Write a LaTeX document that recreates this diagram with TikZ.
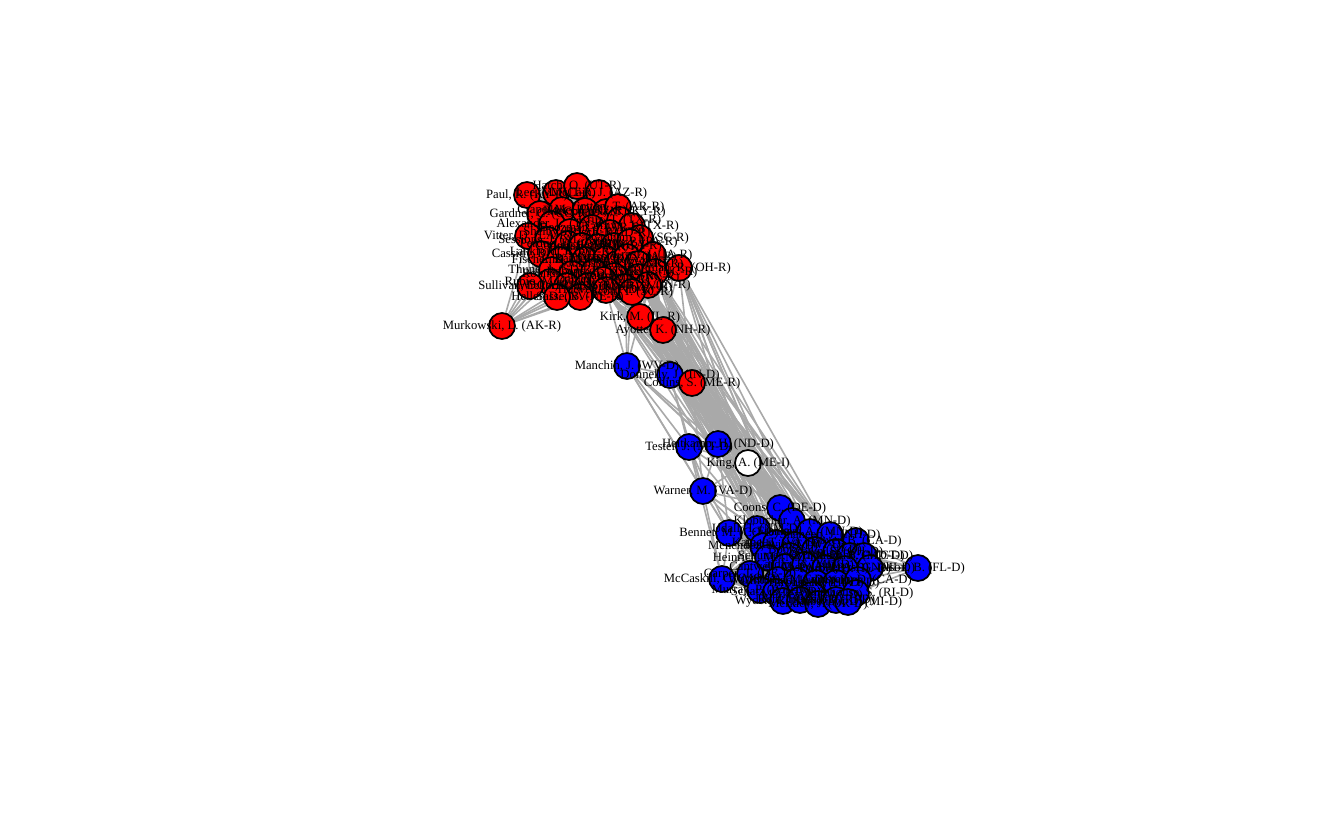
\documentclass[tikz,border=0pt]{standalone}
\usepackage{fontspec}
\setmainfont{Liberation Serif}
\usepackage{xcolor}
\usepackage{tikz}
\usetikzlibrary{backgrounds}
\definecolor{rep}{HTML}{FF0000}
\definecolor{dem}{HTML}{0000FF}
\definecolor{ind}{HTML}{FFFFFF}
\definecolor{tie}{HTML}{A9A9A9}

\def\senators{%
  paul/527/195/rep/{Paul, R. (KY-R)},
  lee/556/193/rep/{Lee, M. (UT-R)},
  hatch/577/186/rep/{Hatch, O. (UT-R)},
  mccain/599/193/rep/{McCain, J. (AZ-R)},
  gardner/540/214/rep/{Gardner, C. (CO-R)},
  crapo/562/210/rep/{Crapo, M. (ID-R)},
  flake/585/211/rep/{Flake, J. (AZ-R)},
  mcconnell/606/212/rep/{McConnell, M. (KY-R)},
  cotton/618/207/rep/{Cotton, T. (AR-R)},
  cruz/620/220/rep/{Cruz, T. (TX-R)},
  cornyn/632/226/rep/{Cornyn, J. (TX-R)},
  alexander/552/224/rep/{Alexander, L. (TN-R)},
  vitter/528/236/rep/{Vitter, D. (LA-R)},
  sessions/548/240/rep/{Sessions, J. (AL-R)},
  shelby/570/232/rep/{Shelby, R. (AL-R)},
  boozman/592/228/rep/{Boozman, J. (AR-R)},
  risch/610/233/rep/{Risch, J. (ID-R)},
  graham/640/238/rep/{Graham, L. (SC-R)},
  cassidy/541/254/rep/{Cassidy, B. (LA-R)},
  lankford/562/252/rep/{Lankford, J. (OK-R)},
  perdue/568/244/rep/{Perdue, D. (GA-R)},
  corker/582/246/rep/{Corker, B. (TN-R)},
  inhofe/598/247/rep/{Inhofe, J. (OK-R)},
  isakson/614/246/rep/{Isakson, J. (GA-R)},
  toomey/630/242/rep/{Toomey, P. (PA-R)},
  fischer/560/260/rep/{Fischer, D. (NE-R)},
  enzi/585/260/rep/{Enzi, M. (WY-R)},
  barrasso/606/259/rep/{Barrasso, J. (WY-R)},
  johnson/617/264/rep/{Johnson, R. (WI-R)},
  grassley/627/257/rep/{Grassley, C. (IA-R)},
  ernst/653/255/rep/{Ernst, J. (IA-R)},
  blunt/638/264/rep/{Blunt, R. (MO-R)},
  thune/552/270/rep/{Thune, J. (SD-R)},
  rounds/572/274/rep/{Rounds, M. (SD-R)},
  roberts/594/272/rep/{Roberts, P. (KS-R)},
  moran/614/276/rep/{Moran, J. (KS-R)},
  burr/638/277/rep/{Burr, R. (NC-R)},
  tillis/655/272/rep/{Tillis, T. (NC-R)},
  portman/679/268/rep/{Portman, R. (OH-R)},
  rubio/550/282/rep/{Rubio, M. (FL-R)},
  wicker/567/286/rep/{Wicker, R. (MS-R)},
  cochran/588/286/rep/{Cochran, T. (MS-R)},
  daines/603/280/rep/{Daines, S. (MT-R)},
  capito/625/287/rep/{Capito, S. (WV-R)},
  coats/648/285/rep/{Coats, D. (IN-R)},
  scott/632/292/rep/{Scott, T. (SC-R)},
  sasse/580/297/rep/{Sasse, B. (NE-R)},
  sullivan/530/286/rep/{Sullivan, D. (AK-R)},
  heller/557/297/rep/{Heller, D. (NV-R)},
  hoeven/606/290/rep/{Hoeven, J. (ND-R)},
  murkowski/502/326/rep/{Murkowski, L. (AK-R)},
  kirk/640/317/rep/{Kirk, M. (IL-R)},
  ayotte/663/330/rep/{Ayotte, K. (NH-R)},
  manchin/627/366/dem/{Manchin, J. (WV-D)},
  donnelly/670/375/dem/{Donnelly, J. (IN-D)},
  collins/692/383/rep/{Collins, S. (ME-R)},
  tester/689/447/dem/{Tester, J. (MT-D)},
  heitkamp/718/444/dem/{Heitkamp, H. (ND-D)},
  king/748/463/ind/{King, A. (ME-I)},
  warner/703/491/dem/{Warner, M. (VA-D)},
  coons/780/508/dem/{Coons, C. (DE-D)},
  klobuchar/792/521/dem/{Klobuchar, A. (MN-D)},
  bennet/729/533/dem/{Bennet, M. (CO-D)},
  udall/757/529/dem/{Udall, T. (NM-D)},
  franken/810/532/dem/{Franken, A. (MN-D)},
  shaheen/830/535/dem/{Shaheen, J. (NH-D)},
  boxer/856/541/dem/{Boxer, B. (CA-D)},
  menendez/763/546/dem/{Menendez, R. (NJ-D)},
  kaine/776/543/dem/{Kaine, T. (VA-D)},
  baldwin/795/545/dem/{Baldwin, T. (WI-D)},
  booker/815/550/dem/{Booker, C. (NJ-D)},
  brown/836/552/dem/{Brown, S. (OH-D)},
  mikulski/850/556/dem/{Mikulski, B. (MD-D)},
  murphy/864/556/dem/{Murphy, C. (CT-D)},
  heinrich/768/558/dem/{Heinrich, M. (NM-D)},
  schumer/790/556/dem/{Schumer, C. (NY-D)},
  cantwell/785/567/dem/{Cantwell, M. (WA-D)},
  cardin/805/565/dem/{Cardin, B. (MD-D)},
  casey/825/568/dem/{Casey, B. (PA-D)},
  durbin/845/569/dem/{Durbin, D. (IL-D)},
  peters/870/568/dem/{Peters, G. (MI-D)},
  mccaskill/722/579/dem/{McCaskill, C. (MO-D)},
  carper/750/574/dem/{Carper, T. (DE-D)},
  warren/778/580/dem/{Warren, E. (MA-D)},
  gillibrand/797/581/dem/{Gillibrand, K. (NY-D)},
  hirono/816/583/dem/{Hirono, M. (HI-D)},
  leahy/836/583/dem/{Leahy, P. (VT-D)},
  feinstein/858/580/dem/{Feinstein, D. (CA-D)},
  murray/760/590/dem/{Murray, P. (WA-D)},
  schatz/776/592/dem/{Schatz, B. (HI-D)},
  markey/812/595/dem/{Markey, E. (MA-D)},
  whitehouse/856/593/dem/{Whitehouse, S. (RI-D)},
  wyden/783/601/dem/{Wyden, R. (OR-D)},
  reid/800/600/dem/{Reid, H. (NV-D)},
  merkley/818/604/dem/{Merkley, J. (OR-D)},
  reed/836/600/dem/{Reed, J. (RI-D)},
  stabenow/848/602/dem/{Stabenow, D. (MI-D)},
  nelson/918/568/dem/{Nelson, B. (FL-D)}}

\def\redcore{paul,lee,hatch,mccain,gardner,crapo,flake,mcconnell,cotton,cruz,cornyn,alexander,vitter,sessions,shelby,boozman,risch,graham,cassidy,lankford,perdue,corker,inhofe,isakson,toomey,fischer,enzi,barrasso,johnson,grassley,ernst,blunt,thune,rounds,roberts,moran,burr,tillis,portman,rubio,wicker,cochran,daines,capito,coats,scott,sasse,sullivan,heller,hoeven}
\def\bluecore{coons,klobuchar,bennet,udall,franken,shaheen,boxer,menendez,kaine,baldwin,booker,brown,mikulski,murphy,heinrich,schumer,cantwell,cardin,casey,durbin,peters,mccaskill,carper,warren,gillibrand,hirono,leahy,feinstein,murray,schatz,markey,whitehouse,wyden,reid,merkley,reed,stabenow}

\begin{document}
\begin{tikzpicture}[
    x=0.75pt, y=-0.75pt,
    senator/.style={circle, draw=black, line width=1.3pt, fill=#1,
        minimum size=19.5pt, inner sep=0pt},
    lbl/.style={font=\fontsize{9.5}{11}\selectfont, text=black, inner sep=0pt},
    edge/.style={draw=tie, line width=1.2pt},
  ]
  \useasboundingbox (0,0) rectangle (1344,830);
  \foreach \id/\px/\py/\col/\txt in \senators
    \node[senator=\col] (\id) at (\px,\py) {};
  \foreach \id/\px/\py/\col/\txt in \senators
    \node[lbl] (\id-t) at (\id) {\txt};
  \begin{scope}[on background layer]
    \foreach \a [count=\i] in \redcore
      \foreach \b [count=\j] in \redcore
        {\ifnum\i<\j \draw[edge] (\a) -- (\b);\fi}
    \foreach \a [count=\i] in \bluecore
      \foreach \b [count=\j] in \bluecore
        {\ifnum\i<\j \draw[edge] (\a) -- (\b);\fi}
    \foreach \a in {kirk,ayotte,collins,portman,hoeven,coats,scott,capito,tillis,burr}
      \foreach \b in {coons,klobuchar,franken,udall,king,shaheen,kaine,baldwin}
        \draw[edge] (\a) -- (\b);
    \foreach \a/\others in {
        murkowski/{sullivan,heller,wicker,rubio,cochran,sasse,hoeven,vitter,cassidy,thune,fischer},
        kirk/{hoeven,capito,scott,coats,burr,tillis,portman,moran,johnson,roberts,cochran,ayotte,collins},
        ayotte/{hoeven,capito,scott,coats,burr,tillis,portman,ernst,blunt,grassley,collins},
        collins/{portman,hoeven,coats,capito,scott,tillis,heitkamp,warner},
        manchin/{hoeven,capito,scott,kirk,donnelly,tester,heitkamp,warner,coons,bennet,klobuchar},
        donnelly/{kirk,ayotte,collins,heitkamp,tester,king,coons,klobuchar,udall,warner,hoeven},
        tester/{heitkamp,warner,bennet,udall,coons,king,mccaskill},
        heitkamp/{king,warner,coons,klobuchar,udall,bennet,franken},
        king/{coons,klobuchar,franken,shaheen,udall,kaine,warner},
        warner/{bennet,udall,coons,mccaskill,heinrich,kaine},
        nelson/{murphy,peters,feinstein,boxer,durbin,whitehouse,brown,mikulski}}
      \foreach \b in \others
        \draw[edge] (\a) -- (\b);
  \end{scope}
\end{tikzpicture}
\end{document}
